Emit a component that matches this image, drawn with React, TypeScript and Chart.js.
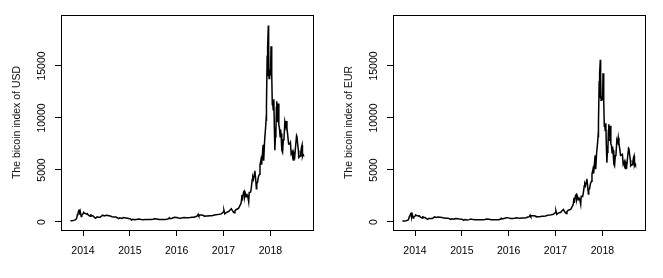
import React, { useEffect, useRef } from "react";
import { Chart, registerables } from "chart.js";

Chart.register(...registerables);

const dates = [
  "2013-09-25","2013-10-05","2013-10-15","2013-10-25","2013-11-05","2013-11-12","2013-11-18","2013-11-22","2013-11-29","2013-12-04","2013-12-07","2013-12-11","2013-12-18","2013-12-22","2013-12-31",
  "2014-01-06","2014-01-13","2014-01-20","2014-01-27","2014-02-03","2014-02-10","2014-02-17","2014-02-25","2014-03-03","2014-03-10","2014-03-20","2014-03-31","2014-04-10","2014-04-20","2014-05-01","2014-05-15","2014-05-25","2014-06-03","2014-06-15","2014-06-30","2014-07-15","2014-07-31","2014-08-15","2014-08-31","2014-09-15","2014-09-25","2014-10-05","2014-10-15","2014-10-31","2014-11-12","2014-11-30","2014-12-15","2014-12-31",
  "2015-01-07","2015-01-14","2015-01-25","2015-02-10","2015-02-28","2015-03-12","2015-03-31","2015-04-15","2015-04-30","2015-05-15","2015-05-31","2015-06-15","2015-06-30","2015-07-12","2015-07-31","2015-08-18","2015-08-31","2015-09-15","2015-09-30","2015-10-15","2015-10-31","2015-11-04","2015-11-11","2015-11-25","2015-12-15","2015-12-31",
  "2016-01-15","2016-01-31","2016-02-15","2016-02-29","2016-03-15","2016-03-31","2016-04-15","2016-04-30","2016-05-15","2016-05-31","2016-06-10","2016-06-17","2016-06-22","2016-06-30","2016-07-15","2016-07-31","2016-08-03","2016-08-15","2016-08-31","2016-09-15","2016-09-30","2016-10-15","2016-10-31","2016-11-15","2016-11-30","2016-12-15","2016-12-31",
  "2017-01-04","2017-01-11","2017-01-20","2017-01-31","2017-02-10","2017-02-23","2017-03-03","2017-03-10","2017-03-18","2017-03-25","2017-03-31","2017-04-10","2017-04-20","2017-04-30","2017-05-07","2017-05-15","2017-05-20","2017-05-25","2017-05-27","2017-06-06","2017-06-11","2017-06-15","2017-06-20","2017-06-27","2017-07-03","2017-07-10","2017-07-16","2017-07-20","2017-07-31","2017-08-05","2017-08-13","2017-08-17","2017-08-22","2017-08-31","2017-09-02","2017-09-08","2017-09-14","2017-09-17","2017-09-23","2017-09-30","2017-10-08","2017-10-12","2017-10-20","2017-10-25","2017-10-31","2017-11-05","2017-11-08","2017-11-12","2017-11-17","2017-11-26","2017-11-29","2017-11-30","2017-12-03","2017-12-07","2017-12-09","2017-12-12","2017-12-16","2017-12-17","2017-12-20","2017-12-22","2017-12-25","2017-12-28","2017-12-31",
  "2018-01-04","2018-01-06","2018-01-10","2018-01-13","2018-01-16","2018-01-19","2018-01-23","2018-01-28","2018-02-01","2018-02-05","2018-02-09","2018-02-13","2018-02-17","2018-02-20","2018-02-25","2018-03-04","2018-03-08","2018-03-12","2018-03-18","2018-03-21","2018-03-25","2018-03-31","2018-04-06","2018-04-12","2018-04-17","2018-04-24","2018-05-01","2018-05-05","2018-05-10","2018-05-15","2018-05-23","2018-05-31","2018-06-06","2018-06-12","2018-06-20","2018-06-24","2018-06-29","2018-07-03","2018-07-10","2018-07-17","2018-07-24","2018-07-27","2018-07-31","2018-08-07","2018-08-10","2018-08-14","2018-08-20","2018-08-26","2018-09-01","2018-09-05","2018-09-08","2018-09-13","2018-09-16"
];

const usdValues = [
  125,122,140,180,230,350,700,780,1130,1150,700,970,520,640,760,
  930,840,830,760,810,680,620,540,670,630,590,450,360,500,450,450,570,660,590,640,620,585,500,480,470,410,320,395,340,420,380,350,320,
  290,180,260,220,255,295,245,220,235,237,230,237,262,310,285,230,230,230,236,255,315,410,310,360,450,430,
  375,370,400,435,415,415,430,450,455,530,580,750,600,670,665,620,540,570,575,610,610,640,700,710,740,780,960,
  1130,780,890,965,1000,1170,1270,1120,970,890,1070,1200,1250,1350,1550,1720,2000,2600,2050,2870,2960,2450,2750,2450,2600,2380,1930,2850,2870,3250,4100,4300,4100,4700,4930,4200,3200,3700,3800,4350,4600,5450,6000,5500,6450,7400,7450,5900,7800,9300,9900,9700,11300,16000,14000,16800,18900,18600,16500,13800,14000,14400,14150,
  15200,16900,14500,14200,11300,11500,10800,11800,9100,6900,8200,8600,11000,11600,9600,11400,9300,9100,8200,8900,8500,6900,6700,7900,8000,9650,9200,9700,9000,8500,7500,7500,7650,6550,6750,6150,5950,6600,6300,7350,8300,8200,7700,6900,6200,6250,6350,6700,7200,7400,6300,6500,6450
];

const eurValues = [
  93,90,103,131,170,261,518,578,830,845,512,705,378,467,551,
  683,615,612,556,598,499,452,394,488,453,428,327,260,362,324,328,418,485,435,468,456,437,374,365,363,320,254,310,271,337,305,281,264,
  244,153,232,194,227,277,228,208,210,207,210,211,235,280,260,208,205,204,211,224,286,373,289,340,410,396,
  344,341,358,400,374,365,381,393,402,476,512,666,532,604,600,555,484,510,515,543,543,582,638,660,698,748,912,
  1082,737,836,896,938,1105,1204,1058,904,823,1003,1132,1168,1240,1412,1573,1788,2320,1830,2550,2640,2190,2468,2160,2285,2088,1690,2470,2445,2760,3480,3660,3480,3950,4150,3500,2690,3100,3180,3680,3920,4600,5080,4660,5540,6380,6420,5070,6620,7800,8350,8150,9500,13550,11900,14250,15600,15300,13900,11700,11800,12100,11800,
  12600,14300,12100,11700,9200,9400,8800,9500,7300,5700,6700,7000,8800,9400,7800,9250,7500,7400,6650,7250,6900,5600,5400,6400,6500,7900,7650,8100,7550,7150,6400,6450,6500,5550,5800,5300,5150,5650,5380,6300,7100,7050,6600,5950,5400,5450,5500,5750,6200,6350,5420,5600,5500
];

const xTicks = [2014, 2015, 2016, 2017, 2018];
const yTicks = [0, 5000, 10000, 15000];
const yTitles = ["The bicoin index of USD", "The bicoin index of EUR"];

const FONT = "'Liberation Sans', Arial, Helvetica, sans-serif";

function toYear(s: string): number {
  const [y, m, d] = s.split("-").map(Number);
  const start = Date.UTC(y, 0, 1);
  const end = Date.UTC(y + 1, 0, 1);
  return y + (Date.UTC(y, m - 1, d) - start) / (end - start);
}

const boxPlugin = {
  id: "rbox",
  afterDraw(chart: any) {
    const { ctx, chartArea: a } = chart;
    ctx.save();
    ctx.strokeStyle = "#000";
    ctx.lineWidth = 1;
    ctx.strokeRect(Math.round(a.left) + 0.5, Math.round(a.top) + 0.5, Math.round(a.right - a.left), Math.round(a.bottom - a.top));
    ctx.restore();
  },
};

function Panel({ values, title, left, width }: { values: number[]; title: string; left: number; width: number }) {
  const ref = useRef<HTMLCanvasElement | null>(null);
  useEffect(() => {
    if (!ref.current) return;
    const data = dates.map((d, i) => ({ x: toYear(d), y: values[i] }));
    const chart = new Chart(ref.current, {
      type: "line",
      data: {
        datasets: [
          {
            data,
            borderColor: "#000",
            borderWidth: 1.5,
            pointRadius: 0,
            tension: 0,
            fill: false,
          },
        ],
      },
      options: {
        animation: false,
        responsive: false,
        events: [],
        layout: { padding: { left: 0, right: width - 313, top: 15, bottom: 0 } },
        plugins: { legend: { display: false }, tooltip: { enabled: false } },
        scales: {
          x: {
            type: "linear",
            min: 2013.53,
            max: 2018.91,
            afterFit: (s: any) => { s.height = 48; },
            afterBuildTicks: (s: any) => { s.ticks = xTicks.map((v) => ({ value: v })); },
            border: { display: false },
            grid: { display: true, drawOnChartArea: false, drawTicks: true, tickLength: 6, color: "#000", lineWidth: 1 },
            ticks: {
              color: "#000",
              font: { family: FONT, size: 10.5 },
              padding: 9,
              maxRotation: 0,
              autoSkip: false,
              callback: (v: any) => String(v),
            },
          },
          y: {
            type: "linear",
            min: -770,
            max: 19900,
            afterFit: (s: any) => { s.width = 61; },
            afterBuildTicks: (s: any) => { s.ticks = yTicks.map((v) => ({ value: v })); },
            border: { display: false },
            grid: { display: true, drawOnChartArea: false, drawTicks: true, tickLength: 6, color: "#000", lineWidth: 1 },
            ticks: {
              color: "#000",
              font: { family: FONT, size: 10.5 },
              padding: -2,
              minRotation: 90,
              maxRotation: 90,
              crossAlign: "center",
              autoSkip: false,
              callback: (v: any) => String(v),
            },
            title: {
              display: true,
              text: title,
              color: "#111",
              font: { family: FONT, size: 10.5 },
              padding: { top: 11, bottom: 0 },
            },
          },
        },
      } as any,
      plugins: [boxPlugin],
    });
    return () => chart.destroy();
  }, [values, title, width]);
  return (
    <canvas
      ref={ref}
      width={width}
      height={278}
      style={{ position: "absolute", left, top: 0, width, height: 278, display: "block" }}
    />
  );
}

export default function App() {
  return (
    <div style={{ position: "absolute", left: 0, top: 0, width: 663, height: 278, background: "#fff" }}>
      <Panel values={usdValues} title={yTitles[0]} left={0} width={332} />
      <Panel values={eurValues} title={yTitles[1]} left={332} width={331} />
    </div>
  );
}
